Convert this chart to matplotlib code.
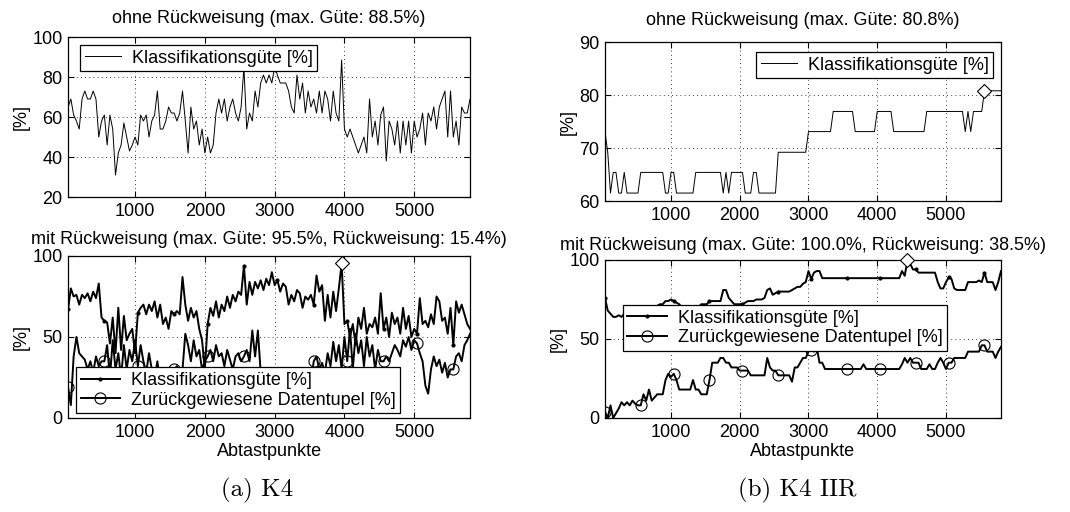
import numpy as np
import matplotlib
matplotlib.use("Agg")
import matplotlib.pyplot as plt

plt.rcParams['font.family'] = ['Liberation Sans', 'DejaVu Sans']
plt.rcParams['font.size'] = 13

# Abtastpunkte (every 40 samples)
abtast = np.arange(40, 5801, 40)

# (a) K4 - ohne Rückweisung
guete_a_ohne = [
    65, 69, 61, 58, 54, 69, 73, 69, 69, 73, 69, 50, 58, 61, 46, 61, 54, 31, 42, 46, 57, 50, 43, 46, 50,
    46, 61, 58, 61, 50, 58, 61, 73, 54, 54, 58, 65, 62, 62, 58, 62, 73, 58, 42, 65, 54, 58, 46, 54, 42,
    50, 42, 46, 62, 69, 62, 69, 58, 65, 69, 62, 58, 65, 85, 54, 62, 58, 73, 65, 77, 81, 77, 81, 77, 85,
    81, 77, 77, 77, 73, 65, 62, 81, 69, 77, 62, 73, 65, 69, 62, 73, 62, 73, 69, 58, 73, 62, 58, 88.5, 54,
    50, 54, 50, 46, 42, 46, 50, 42, 69, 50, 58, 46, 61, 65, 38, 58, 54, 46, 58, 42, 58, 46, 58, 42, 58,
    50, 54, 62, 46, 62, 58, 65, 54, 65, 69, 73, 50, 73, 50, 58, 46, 65, 62, 62, 69,
]

# (a) K4 - mit Rückweisung
guete_a_mit = [
    67, 80, 75, 76, 70, 76, 74, 77, 72, 78, 74, 83, 62, 60, 59, 46, 62, 40, 68, 42, 63, 48, 52, 55, 40,
    65, 68, 70, 64, 70, 66, 72, 62, 70, 58, 62, 55, 66, 64, 66, 64, 87, 70, 60, 68, 62, 66, 55, 48, 30,
    58, 68, 63, 72, 62, 70, 66, 75, 68, 76, 72, 78, 76, 94, 70, 84, 76, 84, 80, 85, 79, 86, 82, 90, 82,
    85, 78, 83, 81, 70, 76, 72, 79, 77, 68, 75, 73, 76, 70, 88, 78, 82, 60, 76, 62, 78, 66, 80, 95.5, 58,
    60, 50, 58, 45, 62, 55, 68, 52, 58, 56, 62, 52, 77, 55, 62, 50, 65, 58, 62, 52, 68, 55, 63, 50, 55,
    52, 74, 58, 60, 56, 64, 58, 75, 72, 60, 62, 52, 68, 45, 72, 65, 70, 64, 58, 55,
]
rueck_a_mit = [
    19, 8, 38, 50, 40, 38, 36, 30, 35, 28, 38, 32, 35, 35, 45, 25, 48, 30, 40, 25, 45, 30, 42, 35, 48,
    32, 45, 35, 28, 40, 30, 25, 35, 22, 28, 30, 25, 20, 30, 32, 28, 30, 52, 45, 35, 48, 38, 42, 30, 35,
    38, 42, 35, 45, 38, 40, 32, 42, 36, 30, 38, 40, 35, 38, 42, 35, 54, 38, 54, 28, 22, 20, 24, 18, 22,
    20, 25, 22, 18, 24, 20, 26, 22, 25, 20, 24, 28, 22, 35, 38, 30, 34, 28, 40, 32, 47, 35, 45, 30, 50,
    35, 55, 30, 52, 40, 48, 32, 50, 38, 45, 30, 42, 35, 35, 38, 35, 40, 45, 42, 38, 48, 44, 50, 42, 48,
    46, 40, 35, 20, 15, 30, 38, 32, 36, 28, 34, 25, 30, 30, 38, 40, 35, 45, 48, 52,
]

# (b) K4 IIR - ohne Rückweisung
guete_b_ohne = [
    73.1, 69.2, 61.5, 65.4, 65.4, 61.5, 61.5, 65.4, 61.5, 61.5, 61.5, 61.5, 61.5,
    65.4, 65.4, 65.4, 65.4, 65.4, 65.4, 65.4, 65.4, 65.4, 61.5, 61.5, 65.4,
    65.4, 61.5, 61.5, 61.5, 61.5, 61.5, 61.5, 61.5, 65.4, 65.4, 65.4, 65.4, 65.4,
    65.4, 65.4, 65.4, 65.4, 65.4, 61.5, 65.4, 61.5, 65.4, 65.4, 65.4, 65.4,
    65.4, 61.5, 61.5, 61.5, 65.4, 65.4, 61.5, 61.5, 61.5, 61.5, 61.5, 61.5, 61.5,
    69.2, 69.2, 69.2, 69.2, 69.2, 69.2, 69.2, 69.2, 69.2, 69.2, 69.2, 73.1,
    73.1, 73.1, 73.1, 73.1, 73.1, 73.1, 73.1, 73.1, 76.9, 76.9, 76.9, 76.9, 76.9,
    76.9, 76.9, 76.9, 73.1, 73.1, 73.1, 73.1, 73.1, 73.1, 73.1, 73.1, 76.9,
    76.9, 76.9, 76.9, 76.9, 76.9, 73.1, 73.1, 73.1, 73.1, 73.1, 73.1, 73.1, 73.1,
    73.1, 73.1, 73.1, 73.1, 76.9, 76.9, 76.9, 76.9, 76.9, 76.9, 76.9, 76.9,
    76.9, 76.9, 76.9, 76.9, 76.9, 76.9, 73.1, 76.9, 73.1, 76.9, 76.9, 76.9, 76.9,
    80.8, 80.8, 80.8, 80.8, 80.8, 80.8, 80.8,
]

# (b) K4 IIR - mit Rückweisung
guete_b_mit = [
    76, 68, 66, 64, 64, 65, 64, 66, 67, 68, 69, 70, 70, 70, 70, 69, 70, 70, 70, 71, 72, 72, 74, 74, 75,
    74, 73, 72, 70, 70, 70, 70, 70, 70, 70, 72, 72, 72, 74, 74, 74, 74, 74, 81, 81, 76, 74, 72, 72, 72,
    72, 73, 74, 74, 74, 75, 75, 75, 76, 81, 82, 78, 79, 80, 80, 80, 80, 80, 81, 82, 83, 83, 85, 86, 93,
    88, 92, 93, 93, 88.5, 88.5, 88.5, 88.5, 88.5, 88.5, 88.5, 88.5, 88.5, 88.5, 88.5, 88.5, 88.5, 88.5,
    88.5, 88.5, 88.5, 88.5, 88.5, 88.5, 88.5,
    88.5, 88.5, 88.5, 88.5, 88.5, 88.5, 88.5, 88.5, 93, 90, 100, 97.5, 94, 94, 92, 92, 92, 92, 92, 92,
    92, 86, 82, 82, 86,
    89, 88, 82, 81, 81, 81, 81, 86, 86, 86, 86, 87, 86, 92, 86, 86, 86, 81, 86, 93,
]
rueck_b_mit = [
    4, 0, 8, 0, 3, 6, 10, 8, 10, 8, 11, 9, 8, 8, 15, 11, 18, 11, 13, 15, 15, 15, 24, 28, 26,
    28, 24, 18, 18, 18, 18, 18, 24, 18, 18, 15, 15, 15, 24, 35, 35, 35, 38, 38, 35, 35, 32, 32, 32, 30,
    30, 30, 30, 27, 27, 27, 27, 27, 27, 38, 32, 30, 30, 27, 27, 27, 27, 27, 23, 32, 32, 35, 38, 38, 42,
    43, 42, 45, 35, 35, 31, 31, 31, 31, 31, 31, 31, 31, 31, 31, 31, 31, 31, 31, 34, 31, 31, 31, 31, 31,
    31, 31, 31, 31, 31, 31, 31, 31, 34, 38, 35, 38, 35, 35, 35, 31, 31, 31, 34, 31, 31, 35, 38, 35, 31,
    35, 35, 38, 38, 38, 38, 38, 42, 42, 42, 42, 42, 46, 46, 42, 42, 42, 38, 42, 45,
]

titel_a = ["ohne Rückweisung (max. Güte: 88.5%)",
           "mit Rückweisung (max. Güte: 95.5%, Rückweisung: 15.4%)"]
titel_b = ["ohne Rückweisung (max. Güte: 80.8%)",
           "mit Rückweisung (max. Güte: 100.0%, Rückweisung: 38.5%)"]
lbl_guete = "Klassifikationsgüte [%]"
lbl_rueck = "Zurückgewiesene Datentupel [%]"

# marker every 500 samples
marker_idx = list(np.searchsorted(abtast, np.arange(40, 5801, 500)))


def style_axes(ax, ylim, yticks):
    ax.set_xlim(40, 5800)
    ax.set_ylim(*ylim)
    ax.set_xticks([1000, 2000, 3000, 4000, 5000])
    ax.set_yticks(yticks)
    ax.tick_params(direction='in', top=True, right=True, length=4, labelsize=13, width=0.8, pad=4)
    ax.grid(True, color='black', linestyle=(0, (1, 4)), linewidth=0.6)
    for s in ax.spines.values():
        s.set_linewidth(0.9)
    ax.set_ylabel("[%]", fontsize=13, labelpad=2)


def legend_box(ax, **kw):
    leg = ax.legend(fancybox=False, edgecolor='black', framealpha=1, fontsize=13,
                    borderaxespad=0, handletextpad=0.6, borderpad=0.25, labelspacing=0.15, **kw)
    leg.get_frame().set_linewidth(0.9)
    return leg


def max_marker(ax, werte):
    i = int(np.argmax(werte))
    ax.plot(abtast[i], werte[i], marker='D', markersize=7, mfc='white',
            mec='black', mew=0.8, linestyle='none', clip_on=False, zorder=5)


fig = plt.figure(figsize=(10.7, 5.12), dpi=100)

# (a) oben
ax1 = fig.add_axes([0.0636, 0.6152, 0.3757, 0.3125])
ax1.plot(abtast, guete_a_ohne, color='black', lw=0.7, label=lbl_guete)
style_axes(ax1, (20, 100), [20, 40, 60, 80, 100])
ax1.set_title(titel_a[0], fontsize=13, pad=10)
legend_box(ax1, loc='upper left', bbox_to_anchor=(0.03, 0.95), handlelength=2.0)

# (a) unten
ax2 = fig.add_axes([0.0636, 0.1836, 0.3757, 0.3164])
ax2.plot(abtast, guete_a_mit, color='black', lw=1.4, marker='.', markersize=4,
         markevery=marker_idx, label=lbl_guete)
ax2.plot(abtast, rueck_a_mit, color='black', lw=1.4, marker='o', markersize=8, mfc='none',
         mew=0.8, markevery=marker_idx, label=lbl_rueck)
max_marker(ax2, guete_a_mit)
style_axes(ax2, (0, 100), [0, 50, 100])
ax2.set_title(titel_a[1], fontsize=13, pad=9)
ax2.set_xlabel("Abtastpunkte", fontsize=13, labelpad=2)
legend_box(ax2, loc='lower left', bbox_to_anchor=(0.02, 0.03), handlelength=2.2)

# (b) oben
ax3 = fig.add_axes([0.5654, 0.6074, 0.3701, 0.3105])
ax3.plot(abtast, guete_b_ohne, color='black', lw=0.7, label=lbl_guete)
max_marker(ax3, guete_b_ohne)
style_axes(ax3, (60, 90), [60, 70, 80, 90])
ax3.set_title(titel_b[0], fontsize=13, pad=12)
legend_box(ax3, loc='upper right', bbox_to_anchor=(0.98, 0.937), handlelength=2.0)

# (b) unten
ax4 = fig.add_axes([0.5654, 0.1836, 0.3701, 0.3086])
ax4.plot(abtast, guete_b_mit, color='black', lw=1.4, marker='.', markersize=4,
         markevery=marker_idx, label=lbl_guete)
ax4.plot(abtast, rueck_b_mit, color='black', lw=1.4, marker='o', markersize=8, mfc='none',
         mew=0.8, markevery=marker_idx, label=lbl_rueck)
max_marker(ax4, guete_b_mit)
style_axes(ax4, (0, 100), [0, 50, 100])
ax4.set_title(titel_b[1], fontsize=13, pad=7)
ax4.set_xlabel("Abtastpunkte", fontsize=13, labelpad=2)
legend_box(ax4, loc='upper left', bbox_to_anchor=(0.045, 0.715), handlelength=2.2)

# Bildunterschriften
fig.text(257 / 1070, 1 - 490 / 512, "(a) K4", family='cmr10', fontsize=18,
         ha='center', va='center')
fig.text(797 / 1070, 1 - 490 / 512, "(b) K4 IIR", family='cmr10', fontsize=18,
         ha='center', va='center')

fig.savefig("out.png", dpi=100)
